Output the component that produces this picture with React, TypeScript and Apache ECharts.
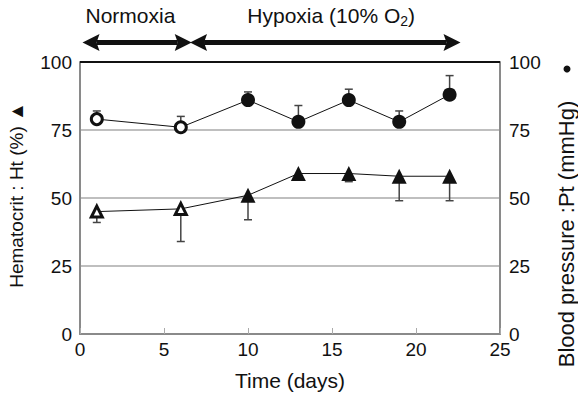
import React, { useEffect, useRef } from "react";
import * as echarts from "echarts";

// ---- data ----
const days = [1, 6, 10, 13, 16, 19, 22];
const bloodPressure = [79, 76, 86, 78, 86, 78, 88];
const bloodPressureUpper = [82, 80, 89, 84, 90, 82, 95];
const hematocrit = [45, 46, 51, 59, 59, 58, 58];
const hematocritLower = [41, 34, 42, 57, 56, 49, 49];
const normoxiaPointCount = 2; // open symbols
const phaseLabels = ["Normoxia", "Hypoxia (10% O{sub|2})"];
const phaseStarts = [0.15, 6.55];
const phaseEnds = [6.65, 22.65];
const phaseLabelCenters = [3.0, 14.95];
const phaseArrowLevel = 107.2;
const phaseLabelLevel = 117;

const FONT = "Liberation Sans, Arial, Helvetica, sans-serif";

export default function App() {
  const ref = useRef<HTMLDivElement>(null);

  useEffect(() => {
    document.body.style.margin = "0";
    const chart = echarts.init(ref.current!, null, { renderer: "svg" });

    const isOpen = (i: number) => i < normoxiaPointCount;
    const openStyle = { color: "#fff", borderColor: "#111", borderWidth: 3 };
    const filledStyle = { color: "#111", borderColor: "#111", borderWidth: 0 };

    const bpData = days.map((d, i) => ({
      value: [d, bloodPressure[i]],
      symbolSize: isOpen(i) ? 11 : 14,
      itemStyle: isOpen(i) ? openStyle : filledStyle,
    }));
    const htData = days.map((d, i) => ({
      value: [d, hematocrit[i]],
      symbolSize: isOpen(i) ? 11 : 15,
      itemStyle: isOpen(i) ? openStyle : filledStyle,
    }));

    const errRender = (params: any, api: any) => {
      const x = api.value(0);
      const a = api.coord([x, api.value(1)]);
      const b = api.coord([x, api.value(2)]);
      const cap = 4;
      const st = { stroke: "#444", lineWidth: 1.5 };
      return {
        type: "group",
        children: [
          { type: "line", shape: { x1: a[0], y1: a[1], x2: b[0], y2: b[1] }, style: st },
          { type: "line", shape: { x1: b[0] - cap, y1: b[1], x2: b[0] + cap, y2: b[1] }, style: st },
        ],
      };
    };

    const axisLabel = { fontFamily: FONT, fontSize: 19, color: "#111" };

    chart.setOption({
      animation: false,
      grid: { left: 80, right: 78, top: 62, bottom: 63, containLabel: false },
      xAxis: {
        type: "value",
        min: 0,
        max: 25,
        interval: 5,
        name: "Time (days)",
        nameLocation: "middle",
        nameGap: 36,
        nameTextStyle: { fontFamily: FONT, fontSize: 21, color: "#111" },
        axisLine: { show: true, lineStyle: { color: "#8a8a8a", width: 2 } },
        axisTick: { show: true, inside: true, length: 6, lineStyle: { color: "#aaa", width: 1 } },
        axisLabel: { ...axisLabel, margin: 6 },
        splitLine: { show: false },
      },
      yAxis: [
        {
          type: "value",
          min: 0,
          max: 100,
          interval: 25,
          position: "left",
          axisLine: { show: true, lineStyle: { color: "#8a8a8a", width: 2 } },
          axisTick: { show: false },
          axisLabel: { ...axisLabel, margin: 8 },
          splitLine: { show: true, lineStyle: { color: "#aaa", width: 1.5 } },
        },
        {
          type: "value",
          min: 0,
          max: 100,
          interval: 25,
          position: "right",
          axisLine: { show: true, lineStyle: { color: "#8a8a8a", width: 2 } },
          axisTick: { show: false },
          axisLabel: { ...axisLabel, margin: 9 },
          splitLine: { show: false },
        },
      ],
      series: [
        {
          type: "custom",
          name: "bp-err",
          yAxisIndex: 1,
          renderItem: errRender,
          encode: { x: 0, y: [1, 2] },
          data: days.map((d, i) => [d, bloodPressure[i], bloodPressureUpper[i]]),
          z: 1,
          silent: true,
        },
        {
          type: "custom",
          name: "ht-err",
          yAxisIndex: 0,
          renderItem: errRender,
          encode: { x: 0, y: [1, 2] },
          data: days.map((d, i) => [d, hematocrit[i], hematocritLower[i]]),
          z: 1,
          silent: true,
        },
        {
          type: "line",
          name: "Blood pressure",
          yAxisIndex: 1,
          data: bpData,
          symbol: "circle",
          showAllSymbol: true,
          lineStyle: { color: "#111", width: 1 },
          z: 3,
          markLine: {
            silent: true,
            symbol: "none",
            label: { show: false },
            lineStyle: { color: "#111", width: 2, type: "solid" },
            data: [{ yAxis: 100 }],
          },
        },
        {
          type: "line",
          name: "Hematocrit",
          yAxisIndex: 0,
          data: htData,
          symbol: "triangle",
          showAllSymbol: true,
          lineStyle: { color: "#111", width: 1 },
          z: 3,
        },
      ],
    });

    const px = (d: number, v: number) =>
      chart.convertToPixel({ xAxisIndex: 0, yAxisIndex: 0 }, [d, v]) as number[];

    const graphics: any[] = [];
    const headLen = 17;
    const headHalf = 8.5;
    phaseLabels.forEach((label, i) => {
      const s = px(phaseStarts[i], phaseArrowLevel);
      const e = px(phaseEnds[i], phaseArrowLevel);
      const y = s[1];
      graphics.push({
        type: "line",
        shape: { x1: s[0] + headLen - 3, y1: y, x2: e[0] - headLen + 3, y2: y },
        style: { stroke: "#111", lineWidth: 5 },
      });
      graphics.push({
        type: "polygon",
        shape: {
          points: [
            [s[0], y],
            [s[0] + headLen, y - headHalf],
            [s[0] + headLen - 3, y],
            [s[0] + headLen, y + headHalf],
          ],
        },
        style: { fill: "#111" },
      });
      graphics.push({
        type: "polygon",
        shape: {
          points: [
            [e[0], y],
            [e[0] - headLen, y - headHalf],
            [e[0] - headLen + 3, y],
            [e[0] - headLen, y + headHalf],
          ],
        },
        style: { fill: "#111" },
      });
      const c = px(phaseLabelCenters[i], phaseLabelLevel);
      graphics.push({
        type: "text",
        x: c[0],
        y: c[1],
        style: {
          text: label,
          fontFamily: FONT,
          fontSize: 21,
          fill: "#111",
          align: "center",
          verticalAlign: "middle",
          rich: {
            sub: { fontFamily: FONT, fontSize: 14, fill: "#111", padding: [10, 0, 0, 0] },
          },
        },
      });
    });

    // Axis titles
    graphics.push({
      type: "text",
      x: 16,
      y: 195,
      rotation: Math.PI / 2,
      style: {
        text: "Hematocrit : Ht (%) ▲",
        fontFamily: FONT,
        fontSize: 19,
        fill: "#111",
        align: "center",
        verticalAlign: "middle",
      },
    });
    graphics.push({
      type: "text",
      x: 566,
      y: 234,
      rotation: Math.PI / 2,
      style: {
        text: "Blood pressure :Pt (mmHg)",
        fontFamily: FONT,
        fontSize: 22,
        fill: "#111",
        align: "center",
        verticalAlign: "middle",
      },
    });
    graphics.push({
      type: "circle",
      shape: { cx: 567, cy: 69, r: 3.5 },
      style: { fill: "#111" },
    });

    chart.setOption({ graphic: graphics });

    return () => chart.dispose();
  }, []);

  return (
    <div
      ref={ref}
      style={{ position: "absolute", left: 0, top: 0, width: 578, height: 397 }}
    />
  );
}
